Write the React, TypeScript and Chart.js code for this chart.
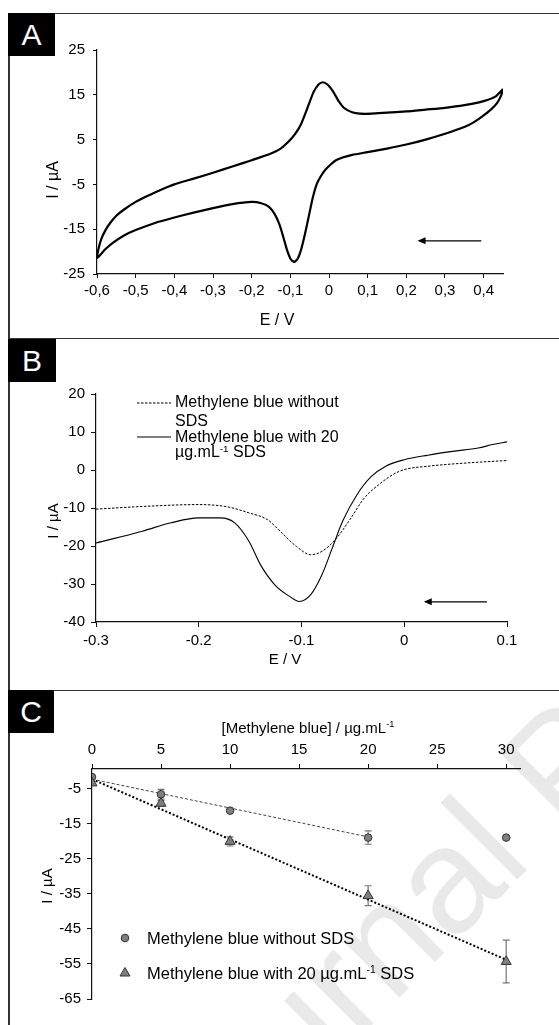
import React, { useEffect, useRef } from 'react';
import { Chart, registerables } from 'chart.js';

Chart.register(...registerables);

const FONT = '"Liberation Sans", Arial, Helvetica, sans-serif';

// ---------- Panel A: cyclic voltammogram ----------
const A_E = [
  0.45, 0.445, 0.435, 0.42, 0.4, 0.375, 0.35, 0.3, 0.25, 0.2, 0.15, 0.1, 0.06, 0.035, 0.018, 0.005,
  -0.01, -0.022, -0.032, -0.042, -0.052, -0.062, -0.072, -0.081, -0.09, -0.099, -0.108, -0.118,
  -0.128, -0.14, -0.155, -0.175, -0.2, -0.25, -0.3, -0.35, -0.4, -0.45, -0.5, -0.53, -0.56, -0.58,
  -0.6,
  -0.595, -0.588, -0.578, -0.565, -0.55, -0.53, -0.5, -0.47, -0.44, -0.4, -0.35, -0.3, -0.25, -0.2,
  -0.15, -0.125, -0.105, -0.088, -0.072, -0.056, -0.04, -0.027, -0.016, -0.004, 0.01, 0.025, 0.04,
  0.06, 0.08, 0.11, 0.2, 0.25, 0.3, 0.35, 0.4, 0.43, 0.45,
];
const A_I = [
  16.3, 14.8, 13.2, 11.8, 10.4, 8.9, 7.8, 6.3, 5.0, 3.9, 3.0, 2.2, 1.6, 1.0, 0.4, -0.5,
  -1.8, -3.3, -5.0, -8.0, -12.0, -16.0, -19.5, -21.6, -22.3, -21.7, -19.8, -16.8,
  -14.0, -11.7, -10.0, -9.2, -8.9, -9.4, -10.3, -11.3, -12.4, -13.6, -15.2, -16.4, -18.1, -19.6,
  -21.5,
  -19.0, -17.0, -15.2, -13.5, -12.0, -10.6, -8.9, -7.6, -6.4, -5.0, -3.7, -2.4, -1.0, 0.4,
  1.9, 3.0, 4.5, 6.2, 8.5, 12.0, 15.6, 17.3, 17.8, 17.3, 15.8, 13.6, 12.0,
  11.1, 10.8, 10.8, 11.3, 11.7, 12.1, 12.7, 13.6, 14.6, 16.3,
];
const A_X_TICKS = [-0.6, -0.5, -0.4, -0.3, -0.2, -0.1, 0, 0.1, 0.2, 0.3, 0.4];
const A_X_LABELS = ['-0,6', '-0,5', '-0,4', '-0,3', '-0,2', '-0,1', '0', '0,1', '0,2', '0,3', '0,4'];
const A_Y_TICKS = [-25, -15, -5, 5, 15, 25];
const A_Y_LABELS = ['-25', '-15', '-5', '5', '15', '25'];
const A_ARROW = [0.394, 0.229, -17.6];

// ---------- Panel B: voltammetric curves ----------
const B_E_NO_SDS = [-0.3, -0.255, -0.2, -0.172, -0.151, -0.133, -0.119, -0.105, -0.091, -0.08, -0.067, -0.053, -0.039, -0.025, -0.011, 0.0, 0.023, 0.058, 0.1];
const B_I_NO_SDS = [-10.3, -9.6, -9.1, -9.7, -11.3, -13.1, -16.6, -20.1, -22.3, -21.4, -18.3, -13.1, -7.4, -3.9, -1.2, 0.1, 1.0, 1.8, 2.5];
const B_E_SDS = [-0.3, -0.255, -0.227, -0.2, -0.179, -0.165, -0.151, -0.14, -0.126, -0.112, -0.102, -0.091, -0.08, -0.07, -0.06, -0.046, -0.032, -0.018, 0.0, 0.023, 0.047, 0.072, 0.086, 0.1];
const B_I_SDS = [-19.2, -16.1, -13.9, -12.6, -12.6, -13.9, -18.8, -24.9, -30.2, -33.2, -34.6, -32.8, -27.5, -20.5, -13.5, -6.5, -1.7, 1.0, 2.7, 3.9, 4.9, 5.8, 6.7, 7.4];
const B_X_TICKS = [-0.3, -0.2, -0.1, 0, 0.1];
const B_X_LABELS = ['-0.3', '-0.2', '-0.1', '0', '0.1'];
const B_Y_TICKS = [-40, -30, -20, -10, 0, 10, 20];
const B_Y_LABELS = ['-40', '-30', '-20', '-10', '0', '10', '20'];
const B_ARROW = [0.0805, 0.019, -34.7];

// ---------- Panel C: calibration ----------
const C_CONC = [0, 5, 10, 20, 30];
const C_NO_SDS = [-1.6, -6.5, -11.2, -18.9, -18.9];
const C_NO_SDS_ERR = [0, 1.4, 0, 1.9, 0];
const C_SDS = [-3.3, -9.1, -20.0, -35.5, -54.3];
const C_SDS_ERR = [0, 0.8, 1.3, 2.85, 6.1];
const C_FIT_NO_SDS_X = [0, 20];
const C_FIT_NO_SDS_Y = [-2.2, -18.7];
const C_FIT_SDS_X = [0, 30];
const C_FIT_SDS_Y = [-2.2, -53.8];
const C_X_TICKS = [0, 5, 10, 15, 20, 25, 30];
const C_X_LABELS = ['0', '5', '10', '15', '20', '25', '30'];
const C_Y_TICKS = [-65, -55, -45, -35, -25, -15, -5];
const C_Y_LABELS = ['-65', '-55', '-45', '-35', '-25', '-15', '-5'];

const pts = (xs: number[], ys: number[]) => xs.map((x, i) => ({ x, y: ys[i] }));

function scale(o: any) {
  return {
    type: 'linear',
    position: o.position,
    min: o.min,
    max: o.max,
    afterBuildTicks: (s: any) => {
      s.ticks = o.ticks.map((v: number) => ({ value: v }));
    },
    afterFit: (s: any) => {
      if (o.horizontal) s.height = o.fit;
      else s.width = o.fit;
    },
    grid: { drawOnChartArea: false, drawTicks: true, tickLength: o.tickLength ?? 5, color: '#111', lineWidth: 1 },
    border: { display: true, color: '#111', width: 1.2 },
    ticks: {
      color: '#000',
      font: { family: FONT, size: o.size },
      padding: o.padding,
      autoSkip: false,
      maxRotation: 0,
      minRotation: 0,
      callback: (_v: any, i: number) => o.labels[i],
    },
  };
}

const arrowPlugin = (spec: number[]) => ({
  id: 'arrow',
  afterDatasetsDraw(chart: any) {
    const xs = chart.scales.x;
    const ys = chart.scales.y;
    const x1 = xs.getPixelForValue(spec[0]);
    const x2 = xs.getPixelForValue(spec[1]);
    const y = ys.getPixelForValue(spec[2]);
    const ctx = chart.ctx;
    ctx.save();
    ctx.strokeStyle = '#000';
    ctx.fillStyle = '#000';
    ctx.lineWidth = 1.3;
    ctx.beginPath();
    ctx.moveTo(x1, y);
    ctx.lineTo(x2 + 6, y);
    ctx.stroke();
    ctx.beginPath();
    ctx.moveTo(x2, y);
    ctx.lineTo(x2 + 8, y - 3.5);
    ctx.lineTo(x2 + 8, y + 3.5);
    ctx.closePath();
    ctx.fill();
    ctx.restore();
  },
});

const errorBarPlugin = {
  id: 'errbars',
  beforeDatasetsDraw(chart: any) {
    const ys = chart.scales.y;
    const ctx = chart.ctx;
    chart.data.datasets.forEach((ds: any, di: number) => {
      if (!ds.errors) return;
      const meta = chart.getDatasetMeta(di);
      meta.data.forEach((el: any, i: number) => {
        const e = ds.errors[i];
        if (!e) return;
        const v = ds.data[i].y;
        const t = ys.getPixelForValue(v + e);
        const b = ys.getPixelForValue(v - e);
        const x = el.x;
        ctx.save();
        ctx.strokeStyle = '#777';
        ctx.lineWidth = 1.2;
        ctx.beginPath();
        ctx.moveTo(x, t);
        ctx.lineTo(x, b);
        ctx.moveTo(x - 3.5, t);
        ctx.lineTo(x + 3.5, t);
        ctx.moveTo(x - 3.5, b);
        ctx.lineTo(x + 3.5, b);
        ctx.stroke();
        ctx.restore();
      });
    });
  },
};

const baseOpts = {
  responsive: false,
  maintainAspectRatio: false,
  animation: false,
  devicePixelRatio: 1,
  events: [],
  plugins: { legend: { display: false }, tooltip: { enabled: false } },
};

const configA: any = {
  type: 'scatter',
  data: {
    datasets: [
      { data: pts(A_E, A_I), showLine: true, borderColor: '#000', borderWidth: 2.2, pointRadius: 0, tension: 0.2, fill: false },
    ],
  },
  options: {
    ...baseOpts,
    layout: { padding: { left: 0, top: 36, right: 56, bottom: 0 } },
    scales: {
      x: scale({ position: 'bottom', min: -0.6, max: 0.45, ticks: A_X_TICKS, labels: A_X_LABELS, size: 15, horizontal: true, fit: 63, padding: 4, tickLength: 4 }),
      y: scale({ position: 'left', min: -25, max: 25, ticks: A_Y_TICKS, labels: A_Y_LABELS, size: 15, horizontal: false, fit: 89, padding: 8, tickLength: 4 }),
    },
  },
  plugins: [arrowPlugin(A_ARROW)],
};

const configB: any = {
  type: 'scatter',
  data: {
    datasets: [
      { data: pts(B_E_NO_SDS, B_I_NO_SDS), showLine: true, borderColor: '#000', borderWidth: 1, borderDash: [2.5, 1.5], pointRadius: 0, cubicInterpolationMode: 'monotone', fill: false },
      { data: pts(B_E_SDS, B_I_SDS), showLine: true, borderColor: '#000', borderWidth: 1.1, pointRadius: 0, cubicInterpolationMode: 'monotone', fill: false },
    ],
  },
  options: {
    ...baseOpts,
    layout: { padding: { left: 0, top: 55, right: 52, bottom: 0 } },
    scales: {
      x: scale({ position: 'bottom', min: -0.3, max: 0.1, ticks: B_X_TICKS, labels: B_X_LABELS, size: 15, horizontal: true, fit: 67, padding: 5, tickLength: 5 }),
      y: scale({ position: 'left', min: -40, max: 20, ticks: B_Y_TICKS, labels: B_Y_LABELS, size: 15, horizontal: false, fit: 88, padding: 6, tickLength: 5 }),
    },
  },
  plugins: [arrowPlugin(B_ARROW)],
};

const configC: any = {
  type: 'scatter',
  data: {
    datasets: [
      { data: pts(C_CONC, C_SDS), errors: C_SDS_ERR, pointStyle: 'triangle', pointRadius: 5.8, backgroundColor: '#7f7f7f', borderColor: '#333', borderWidth: 1, showLine: false },
      { data: pts(C_CONC, C_NO_SDS), errors: C_NO_SDS_ERR, pointStyle: 'circle', pointRadius: 3.8, backgroundColor: '#7f7f7f', borderColor: '#333', borderWidth: 1, showLine: false },
      { data: pts(C_FIT_NO_SDS_X, C_FIT_NO_SDS_Y), showLine: true, borderColor: '#444', borderWidth: 1, borderDash: [3, 2], pointRadius: 0, fill: false },
      { data: pts(C_FIT_SDS_X, C_FIT_SDS_Y), showLine: true, borderColor: '#000', borderWidth: 2, borderDash: [2, 2], pointRadius: 0, fill: false },
    ],
  },
  options: {
    ...baseOpts,
    layout: { padding: { left: 0, top: 0, right: 39, bottom: 26 } },
    scales: {
      x: scale({ position: 'top', min: 0, max: 31, ticks: C_X_TICKS, labels: C_X_LABELS, size: 15, horizontal: true, fit: 78, padding: 5, tickLength: 5 }),
      y: scale({ position: 'left', min: -65, max: 0.7, ticks: C_Y_TICKS, labels: C_Y_LABELS, size: 15, horizontal: false, fit: 84, padding: 6, tickLength: 5 }),
    },
  },
  plugins: [errorBarPlugin],
};

function ChartBox({ left, top, width, height, config }: any) {
  const ref = useRef<HTMLCanvasElement>(null);
  useEffect(() => {
    const chart = new Chart(ref.current as HTMLCanvasElement, config);
    return () => chart.destroy();
  }, []);
  return (
    <canvas
      ref={ref}
      width={width}
      height={height}
      style={{ position: 'absolute', left, top, width, height }}
    />
  );
}

function Txt({ x, y, size, children, rotate, align }: any) {
  const center = align !== 'left';
  const transform = rotate
    ? `translate(-50%, -50%) rotate(${rotate}deg)`
    : center
    ? 'translate(-50%, -50%)'
    : 'translateY(-50%)';
  return (
    <div
      style={{
        position: 'absolute',
        left: x,
        top: y,
        fontSize: size,
        lineHeight: 1,
        whiteSpace: 'nowrap',
        color: '#000',
        transform,
      }}
    >
      {children}
    </div>
  );
}

const Sup = ({ children }: any) => (
  <sup style={{ fontSize: '0.62em', lineHeight: 0, verticalAlign: '0.55em' }}>{children}</sup>
);

function PanelLabel({ x, y, w, h, text }: any) {
  return (
    <div
      style={{
        position: 'absolute',
        left: x,
        top: y,
        width: w,
        height: h,
        background: '#000',
        color: '#fff',
        fontSize: 30,
        lineHeight: `${h}px`,
        textAlign: 'center',
      }}
    >
      {text}
    </div>
  );
}

const HLine = ({ y }: any) => (
  <div style={{ position: 'absolute', left: 8, top: y, width: 551, height: 1.5, background: '#333' }} />
);

export default function App() {
  return (
    <div
      style={{
        position: 'absolute',
        left: 0,
        top: 0,
        width: 559,
        height: 1025,
        overflow: 'hidden',
        background: '#fff',
        fontFamily: FONT,
      }}
    >
      <svg width={559} height={1025} style={{ position: 'absolute', left: 0, top: 0 }}>
        <text
          x={186}
          y={1211}
          transform="rotate(-45 186 1211)"
          fontSize={150}
          fill="#e9e9e9"
          fontFamily={FONT}
        >
          Journal Pre-proof
        </text>
      </svg>

      <HLine y={12.5} />
      <HLine y={337.5} />
      <HLine y={689.5} />
      <div style={{ position: 'absolute', left: 8, top: 12.5, width: 1.5, height: 1013, background: '#333' }} />

      <ChartBox left={8} top={14} width={551} height={323} config={configA} />
      <ChartBox left={8} top={339} width={551} height={350} config={configB} />
      <ChartBox left={8} top={691} width={551} height={334} config={configC} />

      <PanelLabel x={8} y={13} w={47} h={43} text="A" />
      <PanelLabel x={8} y={339} w={48} h={43} text="B" />
      <PanelLabel x={8} y={690} w={46} h={43} text="C" />

      {/* Panel A titles */}
      <Txt x={277} y={320} size={16}>E / V</Txt>
      <Txt x={53} y={180} size={16} rotate={-90}>I / µA</Txt>

      {/* Panel B titles and legend */}
      <Txt x={285} y={658} size={15}>E / V</Txt>
      <Txt x={52} y={521} size={15} rotate={-90}>I / µA</Txt>
      <svg width={40} height={60} style={{ position: 'absolute', left: 135, top: 395 }}>
        <line x1={2} y1={8} x2={36} y2={8} stroke="#000" strokeWidth={1} strokeDasharray="2.5 1.5" />
        <line x1={2} y1={42} x2={36} y2={42} stroke="#000" strokeWidth={1.1} />
      </svg>
      <Txt x={175} y={402} size={16} align="left">Methylene blue without</Txt>
      <Txt x={175} y={421} size={16} align="left">SDS</Txt>
      <Txt x={175} y={437} size={16} align="left">Methylene blue with 20</Txt>
      <Txt x={175} y={452} size={16} align="left">
        µg.mL<Sup>-1</Sup> SDS
      </Txt>

      {/* Panel C titles and legend */}
      <Txt x={308} y={727} size={15}>
        [Methylene blue] / µg.mL<Sup>-1</Sup>
      </Txt>
      <Txt x={46} y={886} size={15} rotate={-90}>I / µA</Txt>
      <svg width={30} height={60} style={{ position: 'absolute', left: 110, top: 925 }}>
        <circle cx={15} cy={13} r={3.8} fill="#7f7f7f" stroke="#333" strokeWidth={1} />
        <polygon points="15,42.5 20,51 10,51" fill="#7f7f7f" stroke="#333" strokeWidth={1} />
      </svg>
      <Txt x={147} y={938} size={16.5} align="left">Methylene blue without SDS</Txt>
      <Txt x={147} y={973} size={16.5} align="left">
        Methylene blue with 20 µg.mL<Sup>-1</Sup> SDS
      </Txt>
    </div>
  );
}
